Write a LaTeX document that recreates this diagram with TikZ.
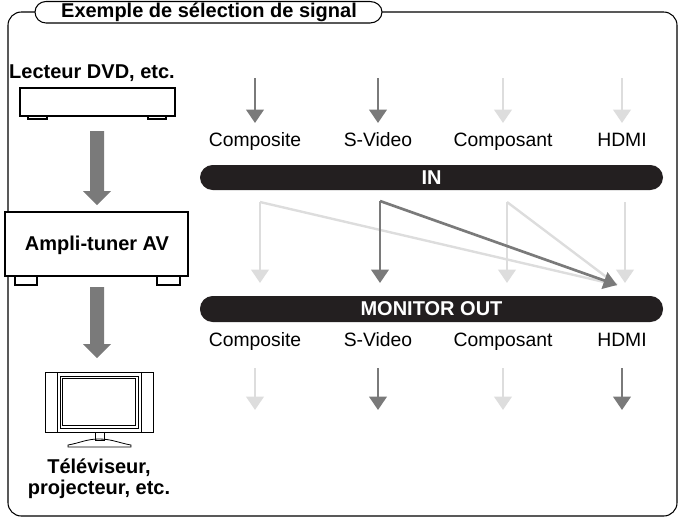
\documentclass[tikz,border=0pt]{standalone}
\usepackage{fontspec}
\setmainfont{Liberation Sans}
\usetikzlibrary{arrows.meta}
\definecolor{dk}{HTML}{7A7A7A}
\definecolor{lt}{HTML}{DDDDDD}
\definecolor{bar}{HTML}{231F20}
\begin{document}
\begin{tikzpicture}[x=0.75pt,y=-0.75pt,
 lbl/.style={font=\fontsize{14.5}{16}\selectfont,text height=1.6ex,text depth=0.4ex},
 bld/.style={font=\bfseries\fontsize{15}{17}\selectfont,align=center},
 sig/.style={line width=2pt,-{Triangle[width=13pt,length=10pt]}},
 barn/.style={fill=bar,rounded corners=9.5pt,text=white,font=\bfseries\fontsize{15}{17}\selectfont}]
\useasboundingbox (0,0) rectangle (685,526);
% frame
\draw[line width=0.8pt,rounded corners=10pt] (35,12) -- (8,12) -- (8,516) -- (677,516) -- (677,12) -- (382,12);
\draw[line width=0.8pt,fill=white] (46,1.5) -- (370,1.5) to[out=0,in=90] (382,12) to[out=-90,in=0] (370,23) -- (46,23) to[out=180,in=-90] (35,12) to[out=90,in=180] (46,1.5);
\node[bld] (title) at (209,12.5) {Exemple de sélection de signal};
% DVD
\node[bld] (dvdl) at (92,73) {Lecteur DVD, etc.};
\draw[line width=0.8pt] (28,116) rectangle (47,119) (148,116) rectangle (166,119);
\draw[line width=0.8pt,fill=white] (20,88) rectangle (175,116);
\coordinate (dvd) at (97,116);
\fill[dk] (90,131) -- (104,131) -- (104,191) -- (111,191) -- (97,205) -- (83,191) -- (90,191) -- cycle;
% amp
\draw[line width=1.2pt] (15,276) rectangle (37,285) (157,276) rectangle (180,285);
\draw[line width=1.2pt,fill=white] (5,212) rectangle (188,276);
\node[bld] (amp) at (97,245) {Ampli-tuner AV};
\fill[dk] (90,287) -- (104,287) -- (104,344) -- (111,344) -- (97,358) -- (83,344) -- (90,344) -- cycle;
% TV
\draw[line width=0.6pt] (45,372) rectangle (153,432) (57,372) -- (57,432) (141,372) -- (141,432);
\draw[line width=0.5pt] (60,376) rectangle (138,428) (62.5,378.5) rectangle (135.5,425.5);
\draw[line width=0.6pt] (95,432) rectangle (104,440);
\draw[line width=0.6pt] (68,445) to[out=10,in=180] (99,439) to[out=0,in=170] (131,445) -- (131,447) -- (68,447) -- cycle;
\node[bld] (tv) at (99,479) {Téléviseur,\\[-1pt]projecteur, etc.};
% bars
\node[barn,minimum width=463*0.75pt,minimum height=25*0.75pt,inner sep=0pt] (in) at (431.5,177.5) {IN};
\node[barn,minimum width=463*0.75pt,minimum height=26*0.75pt,inner sep=0pt] (mo) at (431.5,309) {MONITOR OUT};
% columns
\foreach \n/\x/\t/\ci/\co in {a/255/Composite/dk/lt,b/378/S-Video/dk/dk,c/503/Composant/lt/lt,d/622/HDMI/lt/dk}{
  \node[lbl] (i\n) at (\x,142) {\t};
  \node[lbl] (o\n) at (\x,342) {\t};
  \coordinate (it\n) at (\x,78);
  \coordinate (ib\n) at (\x,123);
  \draw[sig,draw=\ci] (it\n) -- (ib\n);
  \coordinate (ot\n) at (\x,368);
  \coordinate (ob\n) at (\x,410);
  \draw[sig,draw=\co] (ot\n) -- (ob\n);
}
% routing
\coordinate (ma) at (260,202); \coordinate (mb) at (380,201);
\coordinate (mc) at (507,202); \coordinate (md) at (625,202);
\coordinate (ea) at (260,283); \coordinate (eb) at (380,283);
\coordinate (ec) at (507,283); \coordinate (ed) at (625,283);
\coordinate (hd) at (617,285);
\draw[lt,line width=1.8pt] (ma) -- (hd) (mc) -- (hd);
\draw[sig,lt] (ma) -- (ea);
\draw[sig,lt] (mc) -- (ec);
\draw[sig,lt] (md) -- (ed);
\draw[sig,dk] (mb) -- (eb);
\draw[sig,dk] (mb) -- (hd);
\end{tikzpicture}
\end{document}
